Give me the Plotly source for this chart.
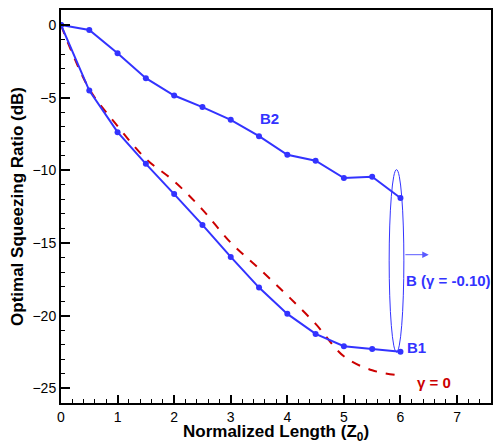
import plotly.graph_objects as go

# ---- data ----
z_vals = [0, 0.5, 1, 1.5, 2, 2.5, 3, 3.5, 4, 4.5, 5, 5.5, 6]
b2_vals = [0, -0.35, -1.95, -3.66, -4.85, -5.65, -6.52, -7.65, -8.93, -9.34, -10.53, -10.44, -11.9]
b1_vals = [0, -4.51, -7.37, -9.55, -11.63, -13.75, -15.95, -18.06, -19.87, -21.25, -22.09, -22.28, -22.48]
g0_vals = [0, -4.4, -6.95, -9.2, -10.75, -12.7, -14.97, -16.75, -18.6, -20.56, -22.79, -23.75, -24.1]

x_ticks = [0, 1, 2, 3, 4, 5, 6, 7]
y_ticks = [0, -5, -10, -15, -20, -25]

BLUE = "rgb(51,51,255)"
LBLUE = "rgb(90,90,255)"
RED = "rgb(204,0,0)"
FONT = "Liberation Sans, Arial, sans-serif"

fig = go.Figure()
fig.add_trace(go.Scatter(x=z_vals, y=g0_vals, mode="lines", line=dict(color=RED, width=2, dash="dash", shape="spline"), showlegend=False))
fig.add_trace(go.Scatter(x=z_vals, y=b2_vals, mode="lines+markers", line=dict(color=BLUE, width=2), marker=dict(color=BLUE, size=6), showlegend=False))
fig.add_trace(go.Scatter(x=z_vals, y=b1_vals, mode="lines+markers", line=dict(color=BLUE, width=2), marker=dict(color=BLUE, size=6), showlegend=False))

# ellipse around B points at z=6
fig.add_shape(type="circle", xref="x", yref="y", x0=5.8, x1=6.06, y0=-22.5, y1=-9.95,
              line=dict(color=BLUE, width=1))

fig.add_annotation(x=6.5, y=-15.8, ax=6.06, ay=-15.8, xref="x", yref="y", axref="x", ayref="y",
                   text="", showarrow=True, arrowhead=2, arrowsize=1.3, arrowwidth=1, arrowcolor=LBLUE)

def label(x, y, t, c):
    fig.add_annotation(x=x, y=y, text=t, showarrow=False, xanchor="left", yanchor="middle",
                       font=dict(family=FONT, size=15, color=c))

label(3.48, -6.4, "<b>B2</b>", BLUE)
label(6.06, -17.6, "<b>B (γ = -0.10)</b>", BLUE)
label(6.08, -22.2, "<b>B1</b>", BLUE)
label(6.25, -24.6, "<b>γ = 0</b>", RED)

# x axis title as annotation below tick labels
fig.add_annotation(x=0.5, y=0, xref="paper", yref="paper", xanchor="center", yanchor="top", yshift=-17,
                   text="<b>Normalized Length (Z<sub>0</sub>)</b>", showarrow=False,
                   font=dict(family=FONT, size=17, color="black"))

axis_common = dict(showline=True, linecolor="black", linewidth=2, mirror=True, ticks="inside",
                   tickcolor="black", tickwidth=2, showgrid=False, zeroline=False,
                   tickfont=dict(family=FONT, size=14, color="black"))

fig.update_xaxes(range=[0, 7.6], tickvals=x_ticks, ticklen=8,
                 minor=dict(dtick=0.2, ticks="inside", ticklen=4, tickwidth=1, tickcolor="black"),
                 **axis_common)
fig.update_yaxes(range=[-26, 1.03], tickvals=y_ticks, ticklen=9,
                 minor=dict(dtick=1, ticks="inside", ticklen=4, tickwidth=1, tickcolor="black"),
                 title=dict(text="<b>Optimal Squeezing Ratio (dB)</b>", font=dict(family=FONT, size=17, color="black"), standoff=5),
                 **axis_common)

fig.update_layout(width=499, height=442, margin=dict(l=61, r=6, t=10, b=39),
                  plot_bgcolor="white", paper_bgcolor="white")

fig.write_html("out.html")
